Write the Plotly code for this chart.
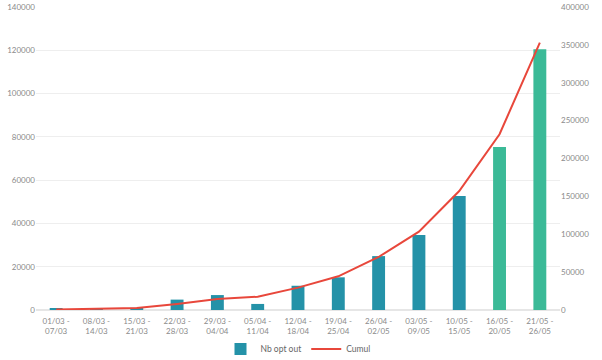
import plotly.graph_objects as go

categories = ["01/03 -<br>07/03", "08/03 -<br>14/03", "15/03 -<br>21/03", "22/03 -<br>28/03",
              "29/03 -<br>04/04", "05/04 -<br>11/04", "12/04 -<br>18/04", "19/04 -<br>25/04",
              "26/04 -<br>02/05", "03/05 -<br>09/05", "10/05 -<br>15/05", "16/05 -<br>20/05",
              "21/05 -<br>26/05"]
nb_opt_out = [700, 200, 1000, 4800, 6900, 2800, 11200, 15100, 24900, 34600, 52700, 75300, 120500]
cumul = [700, 1200, 2500, 8000, 14500, 17500, 29500, 44500, 70000, 103500, 157000, 232000, 353000]
bar_colors = ["#2492A8"] * 11 + ["#3BBA97"] * 2

font = dict(family="Lato, Open Sans, sans-serif", size=8, color="#8a8a8a")

fig = go.Figure()
fig.add_trace(go.Bar(x=categories, y=nb_opt_out, name="Nb opt out",
                     marker=dict(color=bar_colors, line=dict(width=0)), yaxis="y"))
fig.add_trace(go.Scatter(x=categories, y=cumul, name="Cumul", mode="lines",
                         line=dict(color="#E8473B", width=2), yaxis="y2"))

fig.update_layout(
    width=602, height=360,
    margin=dict(l=36, r=42, t=7, b=50, autoexpand=False),
    paper_bgcolor="white", plot_bgcolor="white",
    font=font,
    bargap=0.68,
    showlegend=True,
    legend=dict(orientation="h", x=0.5, xanchor="center", y=-0.129, yanchor="middle",
                font=dict(family="Lato, Open Sans, sans-serif", size=8.5, color="#666"),
                itemwidth=30, tracegroupgap=0),
    xaxis=dict(tickfont=font, showgrid=False, showline=False, ticks="", tickangle=0,
               ticklabelstandoff=5),
    yaxis=dict(range=[0, 140000], dtick=20000, showgrid=True, gridcolor="#eeeeee",
               zeroline=True, zerolinecolor="#e6e6e6", tickfont=font, ticks="",
               tickformat="d", showline=False),
    yaxis2=dict(range=[0, 400000], dtick=50000, overlaying="y", side="right",
                showgrid=False, zeroline=False, tickfont=font, tickformat="d",
                showline=False, ticks=""),
)

fig.write_html("out.html", config={"displayModeBar": False},
               post_script="document.body.style.margin='0';document.body.style.overflow='hidden';")
